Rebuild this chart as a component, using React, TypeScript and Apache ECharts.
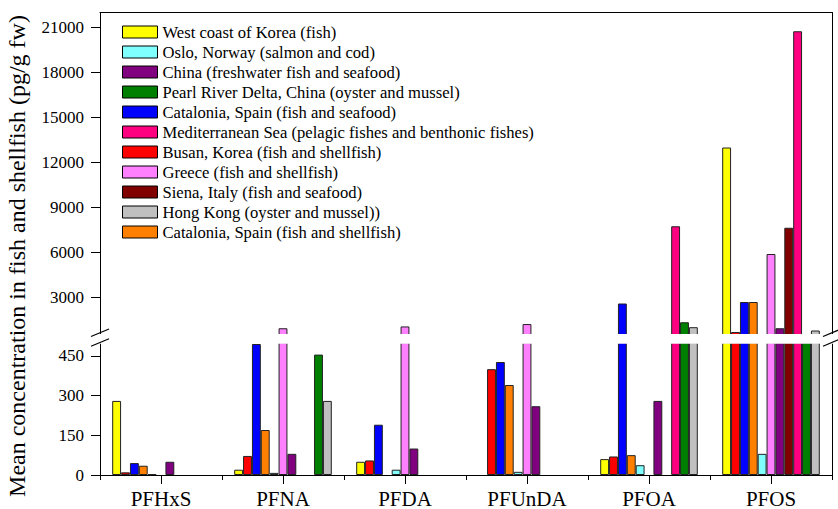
import React, { useEffect, useRef } from "react";
import * as echarts from "echarts";

const categories = ["PFHxS", "PFNA", "PFDA", "PFUnDA", "PFOA", "PFOS"];

// series values (pg/g fw), null = no data
const westKorea = [280, 20, 50, null, 60, 13000];
const busan = [10, 72, 55, 400, 70, 700];
const catSeafood = [45, 495, 190, 427, 2600, 2700];
const catShellfish = [35, 170, null, 340, 75, 2700];
const oslo = [3, 8, 20, 12, 37, 80];
const greece = [null, 950, 1070, 1230, null, 5900];
const china = [50, 80, 100, 260, 280, 950];
const siena = [null, null, null, null, null, 7650];
const mediterranean = [null, null, null, null, 7750, 20750];
const pearlRiver = [null, 455, null, null, 1350, 520];
const hongKong = [null, 280, null, null, 1020, 800];

const upperTicks = [3000, 6000, 9000, 12000, 15000, 18000, 21000];
const lowerTicks = [0, 150, 300, 450];
const BREAK = 500;
const UPPER_MAX = 22000;

// bar order within each group
const seriesDefs = [
  { name: "West coast of Korea (fish)", data: westKorea, color: "#FFFF00" },
  { name: "Busan, Korea (fish and shellfish)", data: busan, color: "#FF0000" },
  { name: "Catalonia, Spain (fish and seafood)", data: catSeafood, color: "#0000FF" },
  { name: "Catalonia, Spain (fish and shellfish)", data: catShellfish, color: "#FF8000" },
  { name: "Oslo, Norway (salmon and cod)", data: oslo, color: "#80FFFF" },
  { name: "Greece (fish and shellfish)", data: greece, color: "#FF80FF" },
  { name: "China (freshwater fish and seafood)", data: china, color: "#800080" },
  { name: "Siena, Italy (fish and seafood)", data: siena, color: "#800000" },
  { name: "Mediterranean Sea (pelagic fishes and benthonic fishes)", data: mediterranean, color: "#FF0080" },
  { name: "Pearl River Delta, China (oyster and mussel)", data: pearlRiver, color: "#008000" },
  { name: "Hong Kong (oyster and mussel))", data: hongKong, color: "#C0C0C0" },
];

const legendOrder = [
  "West coast of Korea (fish)",
  "Oslo, Norway (salmon and cod)",
  "China (freshwater fish and seafood)",
  "Pearl River Delta, China (oyster and mussel)",
  "Catalonia, Spain (fish and seafood)",
  "Mediterranean Sea (pelagic fishes and benthonic fishes)",
  "Busan, Korea (fish and shellfish)",
  "Greece (fish and shellfish)",
  "Siena, Italy (fish and seafood)",
  "Hong Kong (oyster and mussel))",
  "Catalonia, Spain (fish and shellfish)",
];

const W = 838;
const H = 509;
const GRID_LEFT = 100;
const GRID_RIGHT = 6;
const UP_TOP = 12.5;
const UP_H = 322.5;
const LO_TOP = 342.7;
const LO_H = 133.3;
const FONT = "Liberation Serif";

export default function App() {
  const ref = useRef<HTMLDivElement>(null);

  useEffect(() => {
    document.body.style.margin = "0";
    if (!ref.current) return;
    const chart = echarts.init(ref.current, undefined, { renderer: "svg" });

    const lineStyle = { color: "#000", width: 1 };
    const plain = (v: number) => String(v);
    const series: any[] = [];
    seriesDefs.forEach((s) => {
      const common = {
        type: "bar",
        name: s.name,
        barGap: "0%",
        barCategoryGap: "20%",
        itemStyle: { color: s.color, borderColor: "#222", borderWidth: 1 },
        clip: true,
      };
      series.push({
        ...common,
        xAxisIndex: 0,
        yAxisIndex: 0,
        data: s.data.map((v) => (v != null && v > BREAK ? v : "-")),
      });
      series.push({
        ...common,
        xAxisIndex: 1,
        yAxisIndex: 2,
        data: s.data.map((v) => (v != null ? v : "-")),
      });
    });

    const xR = W - GRID_RIGHT;
    const gapTop = UP_TOP + UP_H - 1;
    const gapBottom = LO_TOP + 1;
    const breakMarks = (x: number) => [
      { type: "line", z: 101, shape: { x1: x - 9, y1: gapTop + 2.5, x2: x + 9, y2: gapTop - 5 }, style: { stroke: "#000", lineWidth: 1.2 } },
      { type: "line", z: 101, shape: { x1: x - 9, y1: gapBottom + 2.5, x2: x + 9, y2: gapBottom - 5 }, style: { stroke: "#000", lineWidth: 1.2 } },
    ];

    chart.setOption({
      animation: false,
      textStyle: { fontFamily: FONT, color: "#000" },
      grid: [
        { left: GRID_LEFT, right: GRID_RIGHT, top: UP_TOP, height: UP_H },
        { left: GRID_LEFT, right: GRID_RIGHT, top: LO_TOP, height: LO_H },
      ],
      legend: {
        data: legendOrder,
        orient: "vertical",
        left: 122,
        top: 22,
        padding: 0,
        itemGap: 0,
        itemWidth: 35,
        itemHeight: 12,
        icon: "rect",
        itemStyle: { borderColor: "#000", borderWidth: 1 },
        textStyle: { fontFamily: FONT, fontSize: 16.6, lineHeight: 20, color: "#000" },
      },
      xAxis: [
        {
          type: "category",
          gridIndex: 0,
          data: categories,
          position: "top",
          axisLine: { show: true, lineStyle },
          axisTick: { show: false },
          axisLabel: { show: false },
        },
        {
          type: "category",
          gridIndex: 1,
          data: categories,
          position: "bottom",
          axisLine: { show: true, lineStyle },
          axisTick: { show: true, length: 5, inside: false, lineStyle },
          axisLabel: { show: true, fontFamily: FONT, fontSize: 21, color: "#000", margin: 13 },
        },
        {
          type: "category",
          gridIndex: 1,
          data: categories,
          position: "bottom",
          axisLine: { show: false },
          axisTick: { show: true, alignWithLabel: true, length: 9, lineStyle },
          axisLabel: { show: false },
        },
      ],
      yAxis: [
        {
          type: "value",
          gridIndex: 0,
          min: BREAK,
          max: UPPER_MAX,
          position: "left",
          axisLine: { show: true, lineStyle },
          axisTick: { show: true, length: 9, lineStyle, customValues: upperTicks },
          axisLabel: { show: true, fontFamily: FONT, fontSize: 17, color: "#000", margin: 16, customValues: upperTicks, formatter: plain },
          splitLine: { show: false },
        },
        {
          type: "value",
          gridIndex: 0,
          min: BREAK,
          max: UPPER_MAX,
          position: "right",
          axisLine: { show: true, lineStyle },
          axisTick: { show: false },
          axisLabel: { show: false },
          splitLine: { show: false },
        },
        {
          type: "value",
          gridIndex: 1,
          min: 0,
          max: BREAK,
          position: "left",
          axisLine: { show: true, lineStyle },
          axisTick: { show: true, length: 9, lineStyle, customValues: lowerTicks },
          axisLabel: { show: true, fontFamily: FONT, fontSize: 17, color: "#000", margin: 16, customValues: lowerTicks, formatter: plain },
          splitLine: { show: false },
        },
        {
          type: "value",
          gridIndex: 1,
          min: 0,
          max: BREAK,
          position: "right",
          axisLine: { show: true, lineStyle },
          axisTick: { show: false },
          axisLabel: { show: false },
          splitLine: { show: false },
        },
      ],
      graphic: [
        {
          type: "rect",
          z: 100,
          shape: { x: GRID_LEFT - 5, y: gapTop, width: xR - GRID_LEFT + 10, height: gapBottom - gapTop },
          style: { fill: "#fff" },
        },
        ...breakMarks(GRID_LEFT),
        ...breakMarks(xR),
        {
          type: "text",
          x: 17,
          y: 256,
          rotation: Math.PI / 2,
          style: {
            text: "Mean concentration in fish and shellfish (pg/g fw)",
            font: `24px ${FONT}`,
            fill: "#000",
            textAlign: "center",
            textVerticalAlign: "middle",
            verticalAlign: "middle",
          },
        },
      ],
      series,
    });

    return () => chart.dispose();
  }, []);

  return <div ref={ref} style={{ width: W, height: H }} />;
}
